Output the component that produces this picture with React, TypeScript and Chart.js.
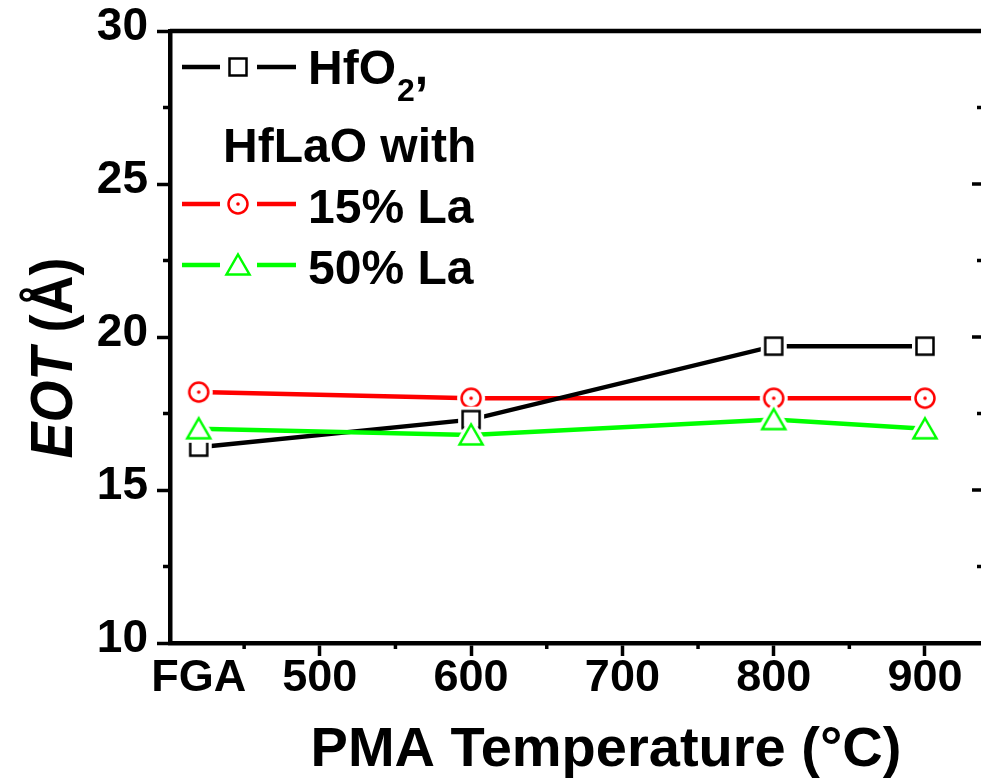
import React, { useEffect, useRef } from 'react';
import { Chart, registerables } from 'chart.js';

Chart.register(...registerables);

// ---- data ----
const xValues = [420, 600, 800, 900]; // FGA is plotted at 420
const xTickValues = [420, 500, 600, 700, 800, 900];
const xTickLabels = ['FGA', '500', '600', '700', '800', '900'];
const xMinorTicks = [450, 550, 650, 750, 850];
const hfo2 = [16.4, 17.3, 19.7, 19.7];
const la15 = [18.2, 18.0, 18.0, 18.0];
const la50 = [17.0, 16.8, 17.3, 17.0];
const yTicks = [10, 15, 20, 25, 30];
const yMinorTicks = [12.5, 17.5, 22.5, 27.5];
const seriesNames = ['HfO', '15% La', '50% La'];
const legendMiddleLine = 'HfLaO with';
const xTitle = 'PMA Temperature (°C)';
const yTitleItalic = 'EOT';
const yTitleRest = ' (Å)';

const FONT = '"Liberation Sans", Arial, Helvetica, sans-serif';
const BLACK = '#000000';
const RED = '#ff0000';
const GREEN = '#00ff00';

function makeMarker(kind: 'square' | 'circle' | 'triangle', color: string): HTMLCanvasElement {
  const c = document.createElement('canvas');
  const W = 34;
  c.width = W;
  c.height = W;
  const g = c.getContext('2d')!;
  const m = W / 2;
  const path = () => {
    g.beginPath();
    if (kind === 'square') {
      g.rect(m - 8.5, m - 8.5, 17, 17);
    } else if (kind === 'circle') {
      g.arc(m, m, 9.5, 0, Math.PI * 2);
    } else {
      g.moveTo(m, m - 10.5);
      g.lineTo(m + 11.5, m + 9.5);
      g.lineTo(m - 11.5, m + 9.5);
      g.closePath();
    }
  };
  g.lineJoin = 'miter';
  path();
  g.fillStyle = '#ffffff';
  g.fill();
  g.strokeStyle = '#ffffff';
  g.lineWidth = 9;
  g.stroke();
  path();
  g.strokeStyle = color;
  g.lineWidth = 2.5;
  g.stroke();
  if (kind === 'circle') {
    g.beginPath();
    g.arc(m, m, 1.8, 0, Math.PI * 2);
    g.fillStyle = color;
    g.fill();
  }
  return c;
}

export default function App() {
  const ref = useRef<HTMLCanvasElement | null>(null);

  useEffect(() => {
    const canvas = ref.current;
    if (!canvas) return;
    const sq = makeMarker('square', BLACK);
    const ci = makeMarker('circle', RED);
    const tr = makeMarker('triangle', GREEN);

    const decor = {
      id: 'decor',
      afterDraw(chart: any) {
        const { ctx, chartArea: a } = chart;
        const x = chart.scales.x;
        const y = chart.scales.y;
        ctx.save();
        ctx.strokeStyle = BLACK;
        ctx.lineCap = 'butt';
        ctx.lineWidth = 4.5;
        ctx.beginPath();
        ctx.moveTo(a.left, a.top);
        ctx.lineTo(a.right, a.top);
        ctx.moveTo(a.right, a.top);
        ctx.lineTo(a.right, a.bottom);
        ctx.stroke();
        ctx.lineWidth = 3.5;
        ctx.beginPath();
        yMinorTicks.forEach((v) => {
          const py = y.getPixelForValue(v);
          ctx.moveTo(a.left - 7, py);
          ctx.lineTo(a.left, py);
          ctx.moveTo(a.right - 7, py);
          ctx.lineTo(a.right, py);
        });
        yTicks.forEach((v) => {
          const py = y.getPixelForValue(v);
          ctx.moveTo(a.right - 12, py);
          ctx.lineTo(a.right, py);
        });
        xMinorTicks.forEach((v) => {
          const px = x.getPixelForValue(v);
          ctx.moveTo(px, a.bottom);
          ctx.lineTo(px, a.bottom + 6);
        });
        ctx.stroke();

        // legend
        const rows = [
          { marker: sq, color: BLACK, y: 67, text: seriesNames[0], base: 84 },
          { marker: ci, color: RED, y: 204, text: seriesNames[1], base: 223 },
          { marker: tr, color: GREEN, y: 265, text: seriesNames[2], base: 284 },
        ];
        rows.forEach((r, i) => {
          ctx.strokeStyle = r.color;
          ctx.lineWidth = 4.5;
          ctx.beginPath();
          ctx.moveTo(182, r.y);
          ctx.lineTo(220, r.y);
          ctx.moveTo(257, r.y);
          ctx.lineTo(296, r.y);
          ctx.stroke();
          const mk = r.marker;
          ctx.drawImage(mk, 238 - mk.width / 2, r.y - mk.height / 2);
          ctx.fillStyle = BLACK;
          ctx.textAlign = 'left';
          ctx.textBaseline = 'alphabetic';
          ctx.font = `bold 48px ${FONT}`;
          ctx.fillText(r.text, 308, r.base);
          if (i === 0) {
            const w = ctx.measureText(r.text).width;
            ctx.font = `bold 32px ${FONT}`;
            ctx.fillText('2', 308 + w + 1, r.base + 17);
            const w2 = ctx.measureText('2').width;
            ctx.font = `bold 48px ${FONT}`;
            ctx.fillText(',', 308 + w + w2 + 1, r.base);
          }
        });
        ctx.font = `bold 48px ${FONT}`;
        ctx.fillText(legendMiddleLine, 223, 162);

        // x title
        ctx.font = `bold 56px ${FONT}`;
        ctx.textAlign = 'center';
        ctx.fillText(xTitle, 606, 766);

        // y title (rotated)
        ctx.save();
        ctx.translate(72, 358);
        ctx.rotate(-Math.PI / 2);
        ctx.scale(1, 1.08);
        ctx.textAlign = 'left';
        ctx.font = `italic bold 54px ${FONT}`;
        const w1 = ctx.measureText(yTitleItalic).width;
        ctx.font = `bold 54px ${FONT}`;
        const w2 = ctx.measureText(yTitleRest).width;
        const start = -(w1 + w2) / 2;
        ctx.font = `italic bold 54px ${FONT}`;
        ctx.fillText(yTitleItalic, start, 0);
        ctx.font = `bold 54px ${FONT}`;
        ctx.fillText(yTitleRest, start + w1, 0);
        ctx.restore();

        ctx.restore();
      },
    };

    const mkData = (arr: number[]) => xValues.map((v, i) => ({ x: v, y: arr[i] }));

    const chart = new Chart(canvas, {
      type: 'line',
      data: {
        datasets: [
          {
            label: 'HfO2',
            data: mkData(hfo2),
            borderColor: BLACK,
            borderWidth: 4.5,
            pointStyle: sq as any,
            pointRadius: 10,
            pointHoverRadius: 10,
            order: 1,
          },
          {
            label: '15% La',
            data: mkData(la15),
            borderColor: RED,
            borderWidth: 4.5,
            pointStyle: ci as any,
            pointRadius: 10,
            pointHoverRadius: 10,
            order: 2,
          },
          {
            label: '50% La',
            data: mkData(la50),
            borderColor: GREEN,
            borderWidth: 4.5,
            pointStyle: tr as any,
            pointRadius: 10,
            pointHoverRadius: 10,
            order: 0,
          },
        ],
      },
      options: {
        responsive: false,
        animation: false,
        devicePixelRatio: 1,
        layout: { padding: { top: 31, right: 16, left: 0, bottom: 0 } },
        plugins: { legend: { display: false }, tooltip: { enabled: false } },
        elements: { line: { tension: 0 } },
        scales: {
          x: {
            type: 'linear',
            min: 401,
            max: 939,
            afterBuildTicks: (scale: any) => {
              scale.ticks = xTickValues.map((v) => ({ value: v }));
            },
            afterFit: (scale: any) => {
              scale.height = 139;
              scale.paddingLeft = 0;
              scale.paddingRight = 0;
            },
            ticks: {
              autoSkip: false,
              maxRotation: 0,
              padding: -4,
              color: BLACK,
              font: { family: FONT, size: 45, weight: 'bold' },
              callback: (v: any) => {
                const i = xTickValues.indexOf(Number(v));
                return i >= 0 ? xTickLabels[i] : '';
              },
            },
            grid: {
              drawOnChartArea: false,
              drawTicks: true,
              tickLength: 13,
              tickWidth: 3.5,
              tickColor: (ctx: any) => (ctx.tick && ctx.tick.value === 420 ? 'rgba(0,0,0,0)' : BLACK),
            },
            border: { display: true, color: BLACK, width: 4.5 },
          },
          y: {
            type: 'linear',
            min: 10,
            max: 30,
            afterBuildTicks: (scale: any) => {
              scale.ticks = yTicks.map((v) => ({ value: v }));
            },
            afterFit: (scale: any) => {
              scale.width = 170;
              scale.paddingTop = 0;
              scale.paddingBottom = 0;
            },
            ticks: {
              padding: 9,
              labelOffset: -4,
              color: BLACK,
              font: { family: FONT, size: 46, weight: 'bold' },
            },
            grid: {
              drawOnChartArea: false,
              drawTicks: true,
              tickLength: 13,
              tickWidth: 3.5,
              tickColor: BLACK,
            },
            border: { display: true, color: BLACK, width: 4.5 },
          },
        },
      },
      plugins: [decor],
    });

    return () => chart.destroy();
  }, []);

  return (
    <div
      style={{
        position: 'fixed',
        left: 0,
        top: 0,
        width: 981,
        height: 782,
        overflow: 'hidden',
        background: '#ffffff',
      }}
    >
      <canvas ref={ref} width={1000} height={782} style={{ display: 'block' }} />
    </div>
  );
}
